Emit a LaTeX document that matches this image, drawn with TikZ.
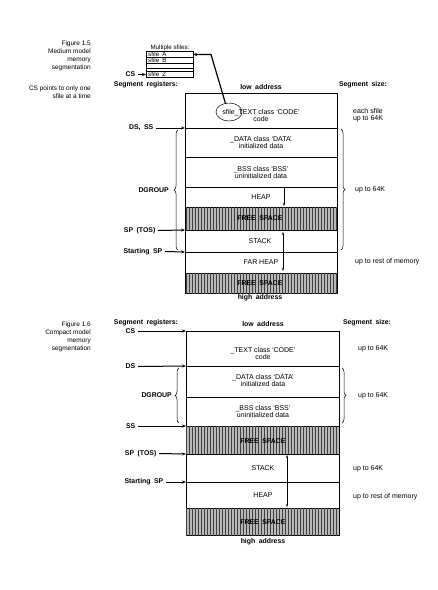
\documentclass[tikz,border=0pt]{standalone}
\usepackage{fontspec}
\setmainfont{Liberation Sans}
\usetikzlibrary{arrows.meta,shapes.geometric,decorations.pathreplacing,patterns}
\begin{document}
\begin{tikzpicture}[x=1pt,y=-1pt,
  txt/.style={font=\fontsize{7}{7.2}\selectfont, inner sep=0pt, align=center},
  bf/.style={font=\fontsize{6.9}{7.2}\selectfont\bfseries, inner sep=0pt},
  small/.style={font=\fontsize{6.2}{7}\selectfont, inner sep=0pt},
  figcap/.style={font=\fontsize{6.5}{7.9}\selectfont, inner sep=0pt, align=right, anchor=north east},
  reglab/.style={font=\fontsize{6.9}{7.2}\selectfont\bfseries, inner ysep=0pt, inner xsep=2.5pt, anchor=east},
  topseg/.style={draw, line width=0.6pt, minimum width=152pt, inner sep=0pt, outer sep=0pt},
  botseg/.style={draw, line width=0.6pt, minimum width=153pt, inner sep=0pt, outer sep=0pt},
  sbox/.style={draw, line width=0.5pt, minimum width=47pt, inner sep=0pt, outer sep=0pt},
  freesp/.style={fill=black!28, postaction={pattern=vertical lines, pattern color=black!75}},
  regarrow/.style={-{Stealth[length=4pt,width=3pt]}, line width=1pt},
  growarrow/.style={line width=0.6pt},
  bracedeco/.style={decorate, decoration={brace, amplitude=4pt}, line width=0.5pt}
]
\fill[white] (0,0) rectangle (438,590);
\useasboundingbox (0,0) rectangle (438,590);

% ---------------- Figure 1.5 ----------------
\node[figcap] (cap1) at (91,41) {Figure 1.5\\Medium model\\memory\\segmentation};
\node[figcap] (note1) at (91,85.5) {CS points to only one\\sfile at a time};

% small sfile box
\node[small] (mult) at (170,47.5) {Multiple sfiles:};
\node[sbox, minimum height=6pt] (sA) at (169.5,54.5) {};
\node[sbox, minimum height=6pt] (sB) at (169.5,60.5) {};
\node[sbox, minimum height=5pt] (sE) at (169.5,66) {};
\node[sbox, minimum height=3pt] (sF) at (169.5,70) {};
\node[sbox, minimum height=6pt] (sZ) at (169.5,74.5) {};
\node[small, anchor=west] (sAt) at (148,54.7) {sfile\enspace A};
\node[small, anchor=west] (sBt) at (148,60.7) {sfile\enspace B};
\node[small, anchor=west] (sZt) at (148,74.7) {sfile\enspace Z};
\node[reglab] (cs1) at (138,74.5) {CS};
\draw[regarrow] (cs1.east) -- (sZ.west);

% headings
\node[bf] (sr1) at (146,85) {Segment\enspace registers:};
\node[bf] (la1) at (261,87) {low\enspace address};
\node[bf] (ss1) at (363,85) {Segment\enspace size:};

% segment rows
\node[topseg, minimum height=35pt] (t1) at (261,110.5) {};
\node[topseg, minimum height=29pt] (t2) at (261,142.5) {};
\node[topseg, minimum height=30pt] (t3) at (261,172) {};
\node[topseg, minimum height=20pt] (t4) at (261,197) {};
\node[topseg, freesp, minimum height=23pt] (t5) at (261,218.5) {};
\node[topseg, minimum height=22pt] (t6) at (261,241) {};
\node[topseg, minimum height=21pt] (t7) at (261,262.5) {};
\node[topseg, freesp, minimum height=20pt] (t8) at (261,283) {};

\node[txt] (t1x) at (261,115.5) {sfile\_TEXT class `CODE'\\code};
\node[txt] (t2x) at (261,142.7) {\_DATA class `DATA'\\initialized data};
\node[txt] (t3x) at (261,172.5) {\_BSS class `BSS'\\uninitialized data};
\node[txt] (t4x) at (261,197.3) {HEAP};
\node[bf] (t5x) at (260,218.5) {FREE\enspace SPACE};
\node[txt] (t6x) at (260,241.5) {STACK};
\node[txt] (t7x) at (261,262) {FAR HEAP};
\node[bf] (t8x) at (260,283.3) {FREE\enspace SPACE};
\node[bf] (ha1) at (260,298) {high\enspace address};

% ellipse
\node[ellipse, draw, line width=0.5pt, minimum width=26pt, minimum height=18pt, inner sep=0pt] (ell) at (229,112) {};

% growth arrows
\coordinate (h1) at (284,187);
\coordinate (h2) at (284,206);
\coordinate (s0) at (283,252);
\coordinate (s1) at (283,232);
\coordinate (s2) at (283,271);
\draw[growarrow, -{Stealth[length=3pt,width=2.2pt]}] (h1) -- (h2);
\draw[growarrow, -{Stealth[length=3pt,width=2.2pt]}] (s0) -- (s1);
\draw[growarrow, -{Stealth[length=3pt,width=2.2pt]}] (s0) -- (s2);

% registers
\node[reglab] (dsss1) at (156,128) {DS,\enspace SS};
\draw[regarrow] (dsss1.east) -- (t2.north west);
\node[reglab] (sp1) at (158,230.5) {SP\enspace (TOS)};
\draw[regarrow] (sp1.east) -- (t6.north west);
\node[reglab] (ssp1) at (165,251.5) {Starting\enspace SP};
\draw[regarrow] (ssp1.east) -- (t7.north west);

% braces
\draw[bracedeco] (178,250) -- (178,130);
\node[reglab, anchor=east, inner xsep=0pt] (dg1) at (169,190) {DGROUP};
\draw[bracedeco] (341,129) -- (341,250);

% sizes
\node[txt] (sz1) at (368,115) {each sfile\\up to 64K};
\node[txt, anchor=west] (sz2) at (355,190) {up to 64K};
\node[txt, anchor=west] (sz3) at (355,262) {up to rest of memory};

% ---------------- Figure 1.6 ----------------
\node[figcap] (cap2) at (91,321.5) {Figure 1.6\\Compact model\\memory\\segmentation};

\node[bf] (sr2) at (146,323) {Segment\enspace registers:};
\node[bf] (la2) at (263,324) {low\enspace address};
\node[bf] (ss2) at (367,323) {Segment\enspace size:};

\node[botseg, minimum height=35pt] (b1) at (262.5,348.5) {};
\node[botseg, minimum height=31pt] (b2) at (262.5,381.5) {};
\node[botseg, minimum height=29pt] (b3) at (262.5,411.5) {};
\node[botseg, freesp, minimum height=28pt] (b4) at (262.5,440) {};
\node[botseg, minimum height=28pt] (b5) at (262.5,468) {};
\node[botseg, minimum height=26pt] (b6) at (262.5,495) {};
\node[botseg, freesp, minimum height=27pt] (b7) at (262.5,521.5) {};

\node[txt] (b1x) at (263,353.5) {\_TEXT class `CODE'\\code};
\node[txt] (b2x) at (263,380.3) {\_DATA class `DATA'\\initialized data};
\node[txt] (b3x) at (263,411.7) {\_BSS class `BSS'\\uninitialized data};
\node[bf] (b4x) at (263,441) {FREE\enspace SPACE};
\node[txt] (b5x) at (263,468.5) {STACK};
\node[txt] (b6x) at (263,495) {HEAP};
\node[bf] (b7x) at (263,522) {FREE\enspace SPACE};
\node[bf] (ha2) at (263,542) {high\enspace address};

\coordinate (g1) at (287,455);
\coordinate (g2) at (287,507);
\draw[growarrow, {Stealth[length=3pt,width=2.2pt]}-{Stealth[length=3pt,width=2.2pt]}] (g1) -- (g2);

\node[reglab] (cs2) at (138,331) {CS};
\draw[regarrow] (cs2.east) -- (b1.north west);
\node[reglab] (ds2) at (138,366.5) {DS};
\draw[regarrow] (ds2.east) -- (b2.north west);
\node[reglab] (ssr2) at (138,426) {SS};
\draw[regarrow] (ssr2.east) -- (b4.north west);
\node[reglab] (sp2) at (159,453.5) {SP\enspace (TOS)};
\draw[regarrow] (sp2.east) -- (b5.north west);
\node[reglab] (ssp2) at (166,482) {Starting\enspace SP};
\draw[regarrow] (ssp2.east) -- (b6.north west);

\draw[bracedeco] (179,423) -- (179,368);
\node[reglab, inner xsep=0pt] (dg2) at (172,395.5) {DGROUP};
\draw[bracedeco] (342,368) -- (342,423);

\node[txt, anchor=west] (sz4) at (358,349) {up to 64K};
\node[txt, anchor=west] (sz5) at (358,396) {up to 64K};
\node[txt, anchor=west] (sz6) at (353,469) {up to 64K};
\node[txt, anchor=west] (sz7) at (353,497) {up to rest of memory};

% pointer from sfile_TEXT to sfile A
\coordinate (pstart) at (225.5,103.5);
\coordinate (pcorner) at (211,54.5);
\draw[regarrow, line width=1.2pt] (pstart) -- (pcorner) -- (sA.east);
\end{tikzpicture}
\end{document}
